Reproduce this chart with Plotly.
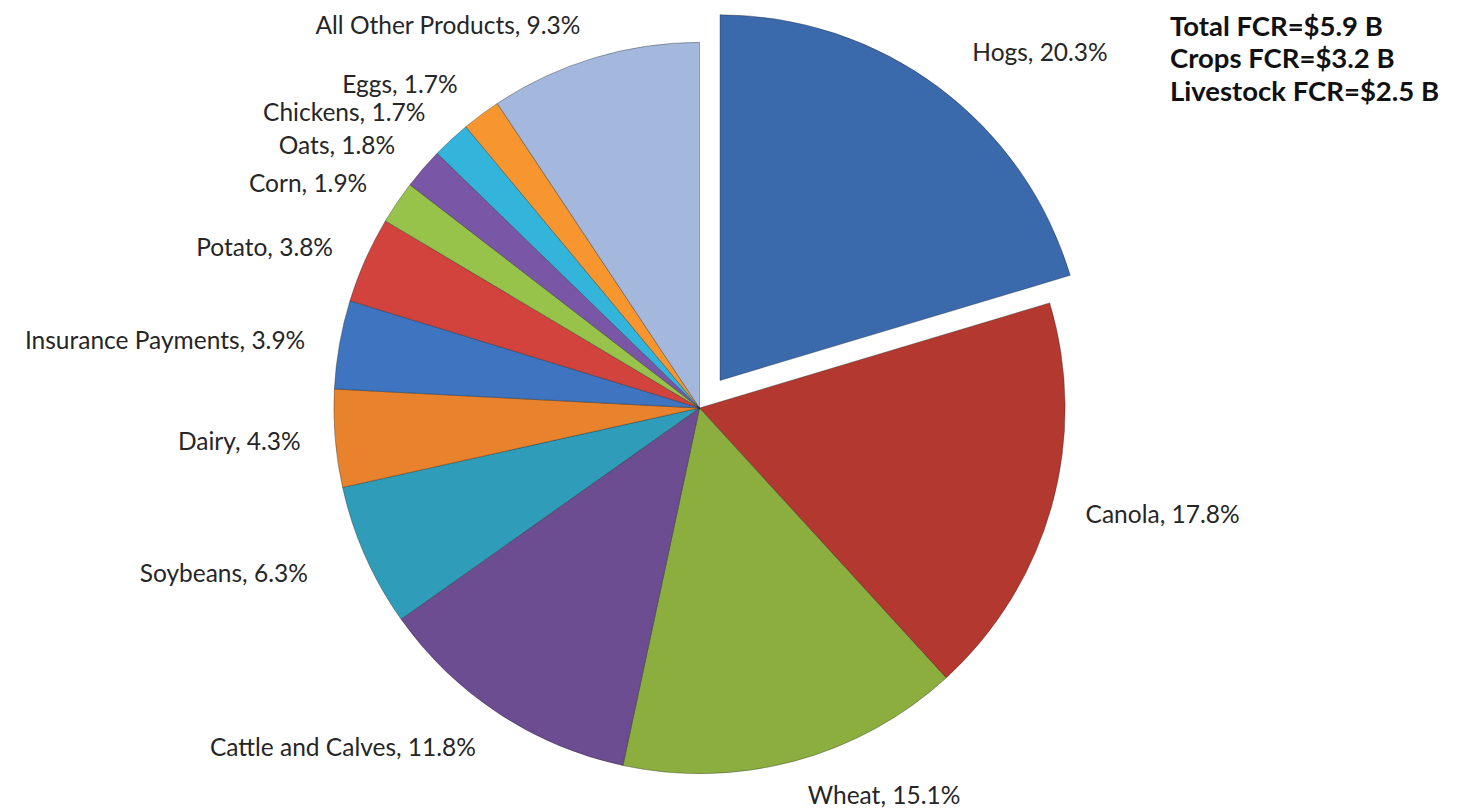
import plotly.graph_objects as go

categories = ["Hogs", "Canola", "Wheat", "Cattle and Calves", "Soybeans", "Dairy",
              "Insurance Payments", "Potato", "Corn", "Oats", "Chickens", "Eggs",
              "All Other Products"]
shares = [20.3, 17.8, 15.1, 11.8, 6.3, 4.3, 3.9, 3.8, 1.9, 1.8, 1.7, 1.7, 9.3]
summary_lines = ["Total FCR=$5.9 B", "Crops FCR=$3.2 B", "Livestock FCR=$2.5 B"]

colors = ["#3A69AC", "#B3382F", "#8BAE3E", "#6C4D92", "#2F9DBA", "#E8822C",
          "#3E74C0", "#D3433E", "#97C34A", "#7A57A6", "#33B4DA", "#F7962F",
          "#A4B8DD"]
HOG_PULL = 0.094

W, H = 1460, 812
CX, CY = 691.5, 400.0        # pie centre in figure pixels
HALF_W = 0.28


def domain_for(outer):
    """Domain whose pie (incl. pull) has outer extent `outer` px, centred at CX, CY."""
    return dict(x=[CX / W - HALF_W, CX / W + HALF_W],
                y=[(H - CY - outer) / H, (H - CY + outer) / H])


common = dict(labels=categories, values=shares, sort=False, direction="clockwise",
              rotation=0, automargin=False, hoverinfo="skip", showlegend=False)

# visible pie
fig = go.Figure(go.Pie(
    **common,
    pull=[HOG_PULL if c == "Hogs" else 0 for c in categories],
    marker=dict(colors=colors, line=dict(color="rgba(30,30,30,0.35)", width=1)),
    textinfo="none",
    domain=domain_for(400),
))

# label layers: transparent copies of the same pie with a slightly larger
# radius so outside labels sit a little away from the slices
label_layers = [
    ({"Insurance Payments", "Corn", "Chickens"}, 393),
    ({"All Other Products"}, 387),
    ({"Canola", "Cattle and Calves", "Dairy", "Potato", "Oats", "Eggs"}, 393),
    ({"Wheat"}, 386),
    ({"Hogs", "Soybeans"}, 400),
]
base_tpl = "%{label}, %{value:.1f}%"
templates = []
for c in categories:
    if c == "Hogs":
        templates.append("\u00a0\u00a0\u00a0" + base_tpl + "<br>\u00a0")
    elif c == "Soybeans":
        templates.append(base_tpl + "\u00a0\u00a0\u00a0")
    else:
        templates.append(base_tpl)

n = len(categories)
for names, r in label_layers:
    fig.add_trace(go.Pie(
        **common,
        marker=dict(colors=["rgba(0,0,0,0)"] * n, line=dict(width=0)),
        textposition=["outside" if c in names else "none" for c in categories],
        texttemplate=templates,
        textfont=dict(family="Lato", size=24.5, color="#262626"),
        domain=domain_for(r),
    ))

line_centers = [17, 50, 83]
for txt, yc in zip(summary_lines, line_centers):
    fig.add_annotation(
        text=txt, xref="paper", yref="paper", x=1160 / W, y=1 - yc / H,
        xanchor="left", yanchor="middle", align="left", showarrow=False,
        font=dict(family="Lato", size=27.5, color="#111111", weight="bold"),
    )

fig.update_layout(
    width=W, height=H,
    margin=dict(l=0, r=0, t=0, b=0, autoexpand=False),
    paper_bgcolor="white", plot_bgcolor="white",
)

fig.write_html("out.html")
